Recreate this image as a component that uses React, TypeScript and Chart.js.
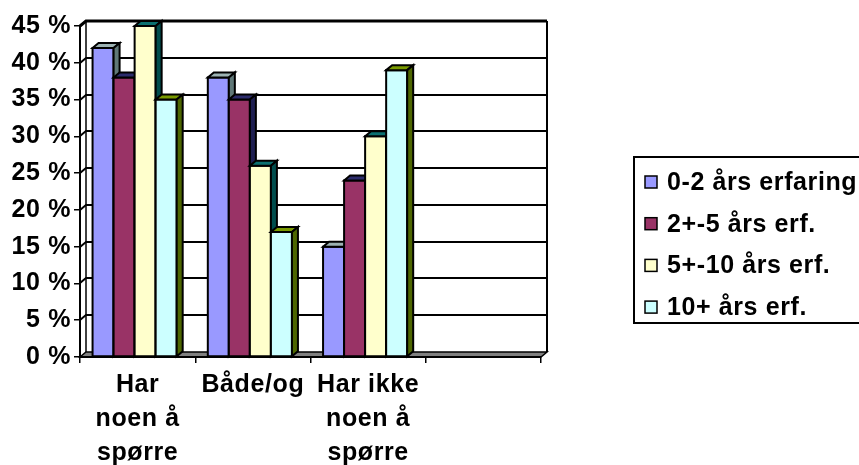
import React, { useEffect, useRef } from 'react';
import { Chart, registerables } from 'chart.js';

Chart.register(...registerables);

// ---- data ----
const categories: (string | string[])[] = [
  ['Har', 'noen å', 'spørre'],
  'Både/og',
  ['Har ikke', 'noen å', 'spørre'],
  '',
];
const seriesNames = ['0-2 års erfaring', '2+-5 års erf.', '5+-10 års erf.', '10+ års erf.'];
const exp0to2 = [42, 38, 15];
const exp2to5 = [38, 35, 24];
const exp5to10 = [45, 26, 30];
const exp10plus = [35, 17, 39];
const yMax = 45;
const yStep = 5;

// ---- styles ----
const FONT = '"Liberation Sans", Arial, sans-serif';
const LETTER_SPACING = '0.6px';
const FACES = [
  { front: '#9999FF', top: '#9CB2B2', side: '#607878' },
  { front: '#993366', top: '#2C2C6C', side: '#1F1F52' },
  { front: '#FFFFCC', top: '#0A7070', side: '#004D4D' },
  { front: '#CCFFFF', top: '#7A9A00', side: '#4D6600' },
];
const DX = 6; // depth offset of the 3D look
const DY = -5;

type Pt = [number, number];
function poly(ctx: CanvasRenderingContext2D, pts: Pt[], fill: string | null) {
  ctx.beginPath();
  ctx.moveTo(pts[0][0], pts[0][1]);
  for (let i = 1; i < pts.length; i++) ctx.lineTo(pts[i][0], pts[i][1]);
  ctx.closePath();
  if (fill) {
    ctx.fillStyle = fill;
    ctx.fill();
  }
  ctx.stroke();
}

// back wall, side wall gridlines and floor
const wallsPlugin = {
  id: 'walls',
  beforeDraw(chart: any) {
    const { ctx, chartArea: a, scales } = chart;
    const ys = scales.y;
    // slightly looser text for every label drawn afterwards
    (ctx as any).letterSpacing = LETTER_SPACING;
    ctx.save();
    ctx.strokeStyle = '#000';
    ctx.lineJoin = 'miter';

    // floor
    ctx.lineWidth = 1.5;
    poly(ctx, [
      [a.left, a.bottom],
      [a.right, a.bottom],
      [a.right + DX, a.bottom + DY],
      [a.left + DX, a.bottom + DY],
    ], '#808080');

    // gridlines on side wall + back wall
    for (const t of ys.ticks) {
      if (t.value === 0) continue;
      const py = Math.round(ys.getPixelForValue(t.value));
      ctx.lineWidth = t.value === yMax ? 3 : 2;
      ctx.beginPath();
      ctx.moveTo(a.left, py);
      ctx.lineTo(a.left + DX, py + DY);
      ctx.lineTo(a.right + DX, py + DY);
      ctx.stroke();
    }

    // wall edges
    const topY = Math.round(ys.getPixelForValue(yMax)) + DY;
    ctx.lineWidth = 1.5;
    ctx.beginPath();
    ctx.moveTo(a.left + DX, topY);
    ctx.lineTo(a.left + DX, a.bottom + DY);
    ctx.stroke();
    ctx.lineWidth = 2;
    ctx.beginPath();
    ctx.moveTo(a.right + DX, topY);
    ctx.lineTo(a.right + DX, a.bottom + DY);
    ctx.stroke();
    ctx.restore();
  },
};

// bars drawn as 3D blocks: front, top and side faces
const bars3dPlugin = {
  id: 'bars3d',
  afterDatasetsDraw(chart: any) {
    const ctx: CanvasRenderingContext2D = chart.ctx;
    ctx.save();
    ctx.strokeStyle = '#000';
    ctx.lineWidth = 2;
    ctx.lineJoin = 'miter';
    chart.data.datasets.forEach((_ds: any, i: number) => {
      const meta = chart.getDatasetMeta(i);
      const face = FACES[i];
      meta.data.forEach((bar: any) => {
        const { x, y, base, width } = bar.getProps(['x', 'y', 'base', 'width'], true);
        if (y == null || isNaN(y)) return;
        const l = x - width / 2 - DX / 2;
        const r = l + width;
        poly(ctx, [[l, y], [r, y], [r, base], [l, base]], face.front);
        poly(ctx, [[l, y], [l + DX, y + DY], [r + DX, y + DY], [r, y]], face.top);
        poly(ctx, [[r, y], [r + DX, y + DY], [r + DX, base + DY], [r, base]], face.side);
      });
    });
    ctx.restore();
  },
};

// framed legend on the right
const legendPlugin = {
  id: 'framedLegend',
  afterDraw(chart: any) {
    const ctx: CanvasRenderingContext2D = chart.ctx;
    const boxLeft = 634;
    const boxTop = 157;
    const boxBottom = 323;
    const firstRow = 182;
    const rowGap = 41.7;
    ctx.save();
    ctx.strokeStyle = '#000';
    ctx.lineWidth = 2;
    ctx.strokeRect(boxLeft, boxTop, 260, boxBottom - boxTop);
    ctx.font = `bold 25px ${FONT}`;
    (ctx as any).letterSpacing = '0.6px';
    ctx.textBaseline = 'middle';
    ctx.textAlign = 'left';
    chart.data.datasets.forEach((ds: any, i: number) => {
      const cy = firstRow + i * rowGap;
      ctx.fillStyle = FACES[i].front;
      ctx.fillRect(645, cy - 6, 12, 12);
      ctx.lineWidth = 1.5;
      ctx.strokeRect(645, cy - 6, 12, 12);
      ctx.fillStyle = '#000';
      ctx.fillText(ds.label, 667, cy + 1);
    });
    ctx.restore();
  },
};

export default function App() {
  const ref = useRef<HTMLCanvasElement>(null);

  useEffect(() => {
    const canvas = ref.current;
    if (!canvas) return;
    const series = [exp0to2, exp2to5, exp5to10, exp10plus];
    const tickFont = { family: FONT, size: 25, weight: 'bold' as const, lineHeight: 1.36 };
    const chart = new Chart(canvas, {
      type: 'bar',
      data: {
        labels: categories,
        datasets: series.map((values, i) => ({
          label: seriesNames[i],
          data: values,
          backgroundColor: 'rgba(0,0,0,0)',
          borderWidth: 0,
        })),
      },
      options: {
        responsive: false,
        animation: false,
        devicePixelRatio: 1,
        events: [],
        layout: { padding: { top: 26, right: 318, bottom: 0, left: 0 } },
        datasets: { bar: { categoryPercentage: 0.73, barPercentage: 1 } },
        plugins: {
          legend: { display: false },
          tooltip: { enabled: false },
        },
        scales: {
          x: {
            type: 'category',
            offset: true,
            grid: { drawOnChartArea: false, offset: true, tickLength: 6, color: '#000', lineWidth: 1.5 },
            border: { display: true, color: '#000', width: 2 },
            ticks: {
              font: tickFont,
              color: '#000',
              padding: 5,
              autoSkip: false,
              maxRotation: 0,
              minRotation: 0,
            },
            afterFit: (scale: any) => {
              scale.height = 108;
            },
          },
          y: {
            min: 0,
            max: yMax,
            grid: { drawOnChartArea: false, tickLength: 6, color: '#000', lineWidth: 1.5 },
            border: { display: true, color: '#000', width: 2 },
            ticks: {
              stepSize: yStep,
              font: { family: FONT, size: 25, weight: 'bold' as const },
              color: '#000',
              padding: 3,
              callback: (v: any) => `${v} %`,
            },
            afterFit: (scale: any) => {
              scale.width = 80;
            },
          },
        },
      },
      plugins: [wallsPlugin, bars3dPlugin, legendPlugin],
    });
    return () => chart.destroy();
  }, []);

  return (
    <div style={{ position: 'fixed', left: 0, top: 0, width: 859, height: 465, background: '#fff' }}>
      <canvas ref={ref} width={859} height={465} style={{ display: 'block', width: 859, height: 465 }} />
    </div>
  );
}
